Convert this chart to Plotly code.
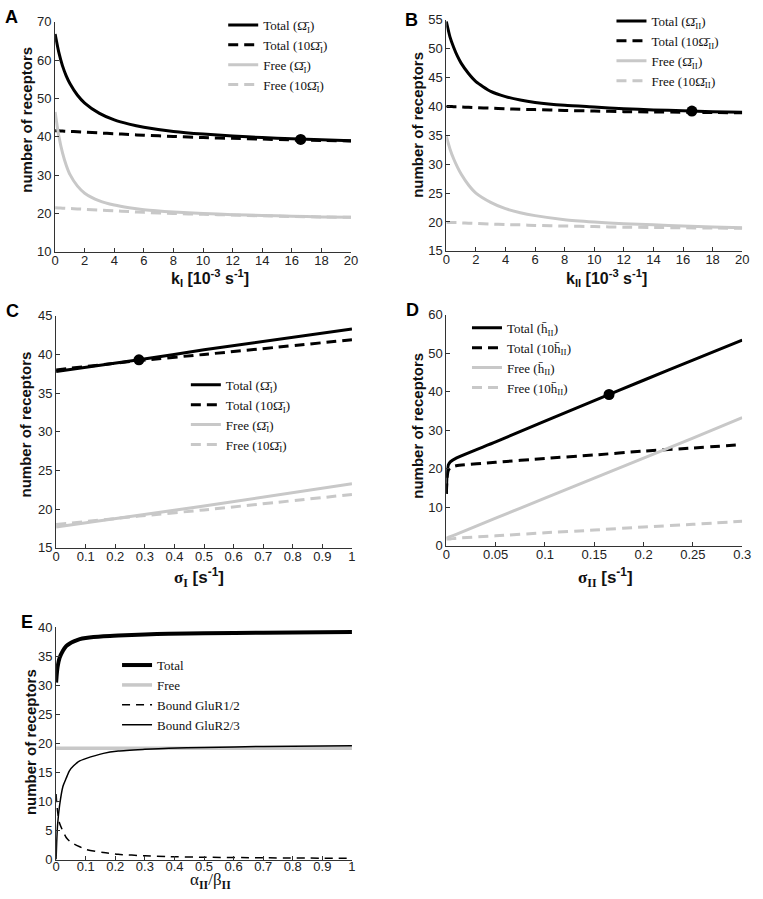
import plotly.graph_objects as go

W, H = 763, 899

# ---------------- data ----------------
# Panel A : k_I [10^-3 s^-1]
a_x = [0, 0.25, 0.5, 0.75, 1, 1.5, 2, 3, 4, 5, 6, 8, 10, 12, 14, 16, 18, 20]
a_total = [66.8, 62.0, 58.5, 55.9, 53.9, 50.9, 48.8, 46.1, 44.4, 43.3, 42.5, 41.4, 40.7, 40.2, 39.8, 39.5, 39.2, 39.0]
a_total10 = [41.6, 41.55, 41.5, 41.45, 41.4, 41.3, 41.2, 41.0, 40.8, 40.6, 40.4, 40.1, 39.8, 39.6, 39.4, 39.2, 39.05, 38.9]
a_free = [46.5, 40.2, 35.8, 32.6, 30.2, 27.2, 25.3, 23.3, 22.2, 21.5, 21.0, 20.4, 20.0, 19.7, 19.5, 19.3, 19.1, 19.0]
a_free10 = [21.5, 21.45, 21.4, 21.35, 21.3, 21.2, 21.1, 20.9, 20.7, 20.5, 20.3, 20.0, 19.8, 19.6, 19.4, 19.2, 19.1, 19.0]
a_dot_x, a_dot_y = [16.6], [39.3]

# Panel B : k_II [10^-3 s^-1]
b_x = [0, 0.25, 0.5, 0.75, 1, 1.5, 2, 3, 4, 5, 6, 8, 10, 12, 14, 16, 18, 20]
b_total = [54.7, 52.0, 50.2, 48.7, 47.5, 45.7, 44.3, 42.6, 41.7, 41.1, 40.7, 40.2, 39.9, 39.6, 39.4, 39.25, 39.1, 39.0]
b_total10 = [40.0, 40.0, 39.95, 39.95, 39.9, 39.85, 39.8, 39.7, 39.6, 39.5, 39.45, 39.3, 39.2, 39.1, 39.05, 39.0, 38.95, 38.9]
b_free = [34.8, 32.6, 30.9, 29.5, 28.3, 26.4, 25.0, 23.4, 22.3, 21.6, 21.1, 20.4, 20.0, 19.7, 19.5, 19.3, 19.15, 19.0]
b_free10 = [19.9, 19.9, 19.9, 19.9, 19.85, 19.8, 19.75, 19.65, 19.55, 19.5, 19.4, 19.3, 19.2, 19.1, 19.05, 19.0, 18.95, 18.9]
b_dot_x, b_dot_y = [16.6], [39.2]

# Panel C : sigma_I [s^-1]
c_x = [0, 0.28, 0.5, 1]
c_total = [37.8, 39.3, 40.6, 43.3]
c_total10 = [38.0, 39.2, 40.0, 41.9]
c_free = [17.7, 19.2, 20.4, 23.3]
c_free10 = [18.0, 19.1, 19.9, 21.9]
c_dot_x, c_dot_y = [0.28], [39.3]

# Panel D : sigma_II [s^-1]
d_x = [0, 0.0005, 0.001, 0.002, 0.004, 0.01, 0.05, 0.1, 0.15, 0.2, 0.25, 0.3]
d_total = [13.5, 17.5, 19.5, 21.0, 21.8, 22.8, 27.0, 32.4, 37.7, 43.0, 48.2, 53.4]
d_total10 = [13.5, 16.5, 18.3, 19.6, 20.3, 20.8, 21.7, 22.7, 23.6, 24.6, 25.4, 26.3]
d_free = [2.0, 2.05, 2.1, 2.2, 2.4, 3.0, 7.2, 12.4, 17.6, 22.8, 28.0, 33.3]
d_free10 = [1.8, 1.8, 1.8, 1.8, 1.8, 2.0, 2.6, 3.4, 4.1, 4.9, 5.6, 6.4]
d_dot_x, d_dot_y = [0.165], [39.3]

# Panel E : alpha_II / beta_II
e_x = [0, 0.002, 0.005, 0.012, 0.023, 0.034, 0.045, 0.06, 0.08, 0.1, 0.16, 0.21, 0.3, 0.38, 0.5, 0.7, 1.0]
e_total = [30.5, 31.8, 33.2, 34.8, 36.0, 36.8, 37.2, 37.6, 38.0, 38.2, 38.5, 38.6, 38.8, 38.9, 39.0, 39.1, 39.2]
e_free = [19.2] * len(e_x)
e_b12 = [11.3, 9.8, 8.3, 6.2, 4.9, 3.8, 3.2, 2.7, 2.2, 1.75, 1.2, 0.9, 0.65, 0.5, 0.4, 0.3, 0.2]
e_b23 = [0, 3.0, 6.0, 9.4, 12.6, 14.0, 15.3, 16.2, 17.0, 17.4, 18.3, 18.7, 19.0, 19.2, 19.3, 19.5, 19.6]

# ---------------- style ----------------
BLACK = "#000000"
GRAY = "#c8c8c8"
DASH = "10px,6px"
SERIF = "Liberation Serif, Times New Roman, serif"
SANS = "Liberation Sans, Arial, sans-serif"


def px(x):
    return x / W


def py(y):
    return 1 - y / H


fig = go.Figure()

panels = {
    # name: (xaxis, yaxis, x-domain px, y-domain px, xrange, yrange, xdtick, ydtick, legend)
    "A": ("x", "y", (52, 353), (15, 249), [0, 20], [10, 70], 2, 10, "legend"),
    "B": ("x2", "y2", (450, 751), (13, 248), [0, 20], [15, 55], 2, 5, "legend2"),
    "C": ("x3", "y3", (53, 354), (314, 550), [0, 1], [15, 45], 0.1, 5, "legend3"),
    "D": ("x4", "y4", (450, 751), (313, 548), [0, 0.3], [0, 60], 0.05, 10, "legend4"),
    "E": ("x5", "y5", (53, 354), (631, 867), [0, 1], [0, 40], 0.1, 5, "legend5"),
}


def add_line(panel, x, y, name, color, width, dash="solid", show=True):
    xa, ya = panels[panel][0], panels[panel][1]
    leg = panels[panel][8]
    fig.add_trace(go.Scatter(
        x=x, y=y, mode="lines", name=name, xaxis=xa, yaxis=ya,
        line=dict(color=color, width=width, dash=dash, shape="spline", smoothing=0.6),
        legend=leg, showlegend=show))


def add_dot(panel, x, y):
    xa, ya = panels[panel][0], panels[panel][1]
    fig.add_trace(go.Scatter(x=x, y=y, mode="markers", xaxis=xa, yaxis=ya,
                             marker=dict(color=BLACK, size=11), showlegend=False,
                             legend=panels[panel][8]))


OM = "Ω̄"
HB = "h̄"
add_line("A", a_x, a_total, f"Total ({OM}<sub>I</sub>)", BLACK, 3)
add_line("A", a_x, a_total10, f"Total (10{OM}<sub>I</sub>)", BLACK, 3, DASH)
add_line("A", a_x, a_free, f"Free ({OM}<sub>I</sub>)", GRAY, 3)
add_line("A", a_x, a_free10, f"Free (10{OM}<sub>I</sub>)", GRAY, 3, DASH)
add_dot("A", a_dot_x, a_dot_y)

add_line("B", b_x, b_total, f"Total ({OM}<sub>II</sub>)", BLACK, 3)
add_line("B", b_x, b_total10, f"Total (10{OM}<sub>II</sub>)", BLACK, 3, DASH)
add_line("B", b_x, b_free, f"Free ({OM}<sub>II</sub>)", GRAY, 3)
add_line("B", b_x, b_free10, f"Free (10{OM}<sub>II</sub>)", GRAY, 3, DASH)
add_dot("B", b_dot_x, b_dot_y)

add_line("C", c_x, c_total, f"Total ({OM}<sub>I</sub>)", BLACK, 3)
add_line("C", c_x, c_total10, f"Total (10{OM}<sub>I</sub>)", BLACK, 3, DASH)
add_line("C", c_x, c_free, f"Free ({OM}<sub>I</sub>)", GRAY, 3)
add_line("C", c_x, c_free10, f"Free (10{OM}<sub>I</sub>)", GRAY, 3, DASH)
add_dot("C", c_dot_x, c_dot_y)

add_line("D", d_x, d_total, f"Total ({HB}<sub>II</sub>)", BLACK, 3)
add_line("D", d_x, d_total10, f"Total (10{HB}<sub>II</sub>)", BLACK, 3, DASH)
add_line("D", d_x, d_free, f"Free ({HB}<sub>II</sub>)", GRAY, 3)
add_line("D", d_x, d_free10, f"Free (10{HB}<sub>II</sub>)", GRAY, 3, DASH)
add_dot("D", d_dot_x, d_dot_y)

add_line("E", e_x, e_total, "Total", BLACK, 4)
add_line("E", e_x, e_free, "Free", GRAY, 3.5)
add_line("E", e_x, e_b12, "Bound GluR1/2", BLACK, 1.5, "8px,6px")
add_line("E", e_x, e_b23, "Bound GluR2/3", BLACK, 1.5)

layout = dict(
    width=W, height=H, margin=dict(l=0, r=0, t=0, b=0),
    paper_bgcolor="white", plot_bgcolor="white",
    font=dict(family=SANS, size=13, color="#222"),
    showlegend=True,
)

# legend positions (line start x, first row centre y) in pixels
legend_pos = {
    "legend": (228, 25),
    "legend2": (623, 21),
    "legend3": (190, 391),
    "legend4": (476, 333),
    "legend5": (120, 676),
}
for k, (lx, ly) in legend_pos.items():
    layout[k] = dict(x=px(lx - 5), y=py(ly - 22), xanchor="left", yanchor="top",
                     bgcolor="rgba(0,0,0,0)", borderwidth=0,
                     font=dict(family=SERIF, size=13, color="#111"),
                     itemwidth=30, tracegroupgap=0)

for name, (xa, ya, xd, yd, xr, yr, xdt, ydt, leg) in panels.items():
    xk = "xaxis" + xa[1:]
    yk = "yaxis" + ya[1:]
    common = dict(showgrid=False, zeroline=False, showline=True, linecolor="#333",
                  linewidth=1, ticks="inside", ticklen=4, tickcolor="#333",
                  tickfont=dict(family=SANS, size=13, color="#222"))
    layout[xk] = dict(domain=[px(xd[0]), px(xd[1])], range=xr, dtick=xdt, tick0=0,
                      anchor=ya, ticklabelstandoff=(-5 if name == "E" else -3), **common)
    layout[yk] = dict(domain=[py(yd[1]), py(yd[0])], range=yr, dtick=ydt, tick0=0,
                      anchor=xa, **common)

fig.update_layout(**layout)

# axis titles and panel letters
ann = []


def text(x, y, t, size, family=SANS, bold=True, angle=0, color="#111"):
    ann.append(dict(x=px(x), y=py(y), xref="paper", yref="paper", text=(f"<b>{t}</b>" if bold else t),
                    showarrow=False, textangle=angle, xanchor="center", yanchor="middle",
                    font=dict(family=family, size=size, color=color)))


for (x, y) in [(22, 115), (421, 120), (22, 425), (421, 426), (27, 748)]:
    text(x, y, "number of receptors", 15, angle=-90)

text(210, 276, "k<sub>I</sub> [10<sup>-3</sup> s<sup>-1</sup>]", 16)
text(613, 276, "k<sub>II</sub> [10<sup>-3</sup> s<sup>-1</sup>]", 16)
text(198, 580, "<span style='font-family:Liberation Serif'>σ<sub>I</sub></span> [s<sup>-1</sup>]", 17)
text(612, 580, "<span style='font-family:Liberation Serif'>σ<sub>II</sub></span> [s<sup>-1</sup>]", 17)
text(210, 889, "α<sub><b>II</b></sub>/β<sub><b>II</b></sub>", 17, family=SERIF, bold=False)

for (x, y, t) in [(8, 10, "A"), (415, 13, "B"), (9, 309, "C"), (416, 308, "D"), (23, 625, "E")]:
    text(x, y, t, 18, color="#000")

fig.update_layout(annotations=ann)
fig.write_html("out.html", config={"displayModeBar": False},
               post_script="document.body.style.margin='0';document.body.style.overflow='hidden';")
